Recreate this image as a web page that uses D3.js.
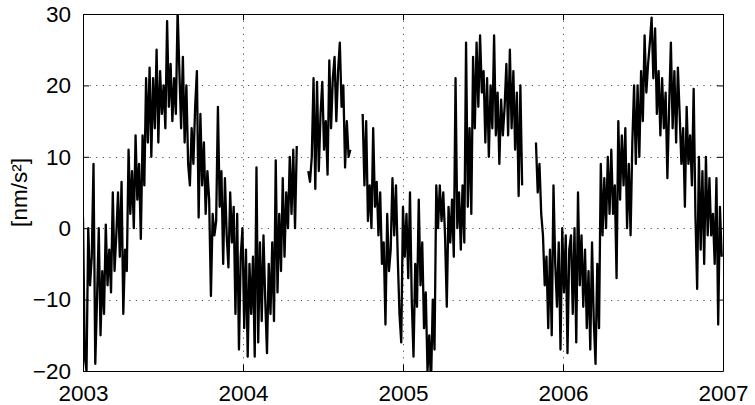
<!DOCTYPE html>
<html>
<head>
<meta charset="utf-8">
<script src="https://cdn.jsdelivr.net/npm/d3@7/dist/d3.min.js"></script>
<style>
  html, body { margin: 0; padding: 0; background: #fff; }
  svg { display: block; font-family: "Liberation Sans", Arial, Helvetica, sans-serif; }
</style>
</head>
<body>
<div id="chart"></div>
<script>
const WIDTH = 755
const HEIGHT = 405
const margin = { top: 14, right: 32, bottom: 34, left: 83 }

// sampling of the record: one value every 4 days
const stepDays = 4

// x ticks (years) and y ticks (nm/s²)
const yearTicks = [2003, 2004, 2005, 2006, 2007]
const valueTicks = [-20, -10, 0, 10, 20, 30]

// continuous stretches of the record (start in decimal years)
const seg1Start = 2003.0
const seg1 = [
  1.5, -18, -20, 0, -8, -4, 9, -19, -10, 0,
  -15, -6, -12, 0.5, -8, -3, -9, 5, -6, -1,
  5, -4, 6.5, -12, -3, -6, 11, 2, 8, 0,
  13, 4, 9, -1.5, 13, 6, 21, 12, 22.5, 10,
  21, 14, 25, 12, 22, 16, 20, 14, 29, 17,
  23, 15, 21, 16, 30.5, 22, 14, 24, 12, 20,
  9, 6, 14, 9, 17, 22, 1.5, 16, 6, 12,
  2, 8, 4, -9.5, 2, -1, 1, 17, 3, 8,
  -5, 7, -1, -5.5, 5, -2, 3, -12, 2, -17,
  -4, 0, -14, -3, -18, -5, -12, -4, -18, 8.5,
  -16, -2, -13, -1, -10, -17.5, -5, -12, -2, -13,
  9.5, -9, 2, -6, 7, -4, 5, 0, 10, 2,
  11, 0, 11.5
]

const seg2Start = 2004.408
const seg2 = [
  8, 6.5, 10, 21, 5.5, 20.5, 8, 16, 20.5, 11,
  15, 7.5, 23.5, 14, 21, 24, 15, 22, 26, 17,
  20, 8.5, 15, 10, 11
]

const seg3Start = 2004.748
const seg3 = [
  16, 6, 15, 1, 6, 0, 14, 3, 6.5, -1,
  5, -5, -2, -13.5, 2, -6, -3, 7, -1, 6,
  -4, -12, -16, 3, -4, 2, -7, 5, -10, -18,
  -5, -11, 4, -8, -2, -14, -9, -20, -15, -22,
  -10, -17, 6, 0, 6, 1, 5, -1, -11, 3,
  -2, 4, -4, 21, 0, 5, -3, 6, -2, 26,
  3, 14, 2, 24, 14, 26, 17, 27, 19, 22,
  12, 21, 10, 20, 14, 27, 13, 19, 9, 18,
  13, 17, 23, 13, 25, 14, 22, 11, 19, 4.5,
  20, 6
]

const seg4Start = 2005.831
const seg4 = [
  12, 5, 9, 2, -1, -8, -4, -14, -3, -15,
  6, -5, -11, -2, -17, 0, -9, -1, -17.5, -3,
  -1, -12, 0, -16, 5, -8, -1, -11, -3, -14,
  -6, -17, -2, -13, -19, -5, -14, 9, -1, 7,
  0, 10, 2, 11, 2, 6, -7, 15, 4, 13,
  6, 14, 0, 9, -1, 12, 20, 9, 20, 10,
  22, 15, 27, 19, 23, 26, 29.5, 21, 28, 16,
  22, 13, 21, 14, 19, 7, 17, 26, 14, 22,
  12, 22.5, 16, 9, 14, 3, 17, 9, 13, 6,
  19.5, 2, -8.5, 10, -3, 8, -5, 10, -1, 7,
  -1, 2, -5, 7, -13.5, 3, -4
]

const segments = [
  { start: seg1Start, values: seg1 },
  { start: seg2Start, values: seg2 },
  { start: seg3Start, values: seg3 },
  { start: seg4Start, values: seg4 }
].map(s => s.values.map((v, i) => ({ t: s.start + i * stepDays / 365.25, v })))

const innerW = WIDTH - margin.left - margin.right
const innerH = HEIGHT - margin.top - margin.bottom

const x = d3.scaleLinear().domain([2003, 2007]).range([0, innerW])
const y = d3.scaleLinear().domain([-20, 30]).range([innerH, 0])

const svg = d3.select("#chart")
  .append("svg")
  .attr("width", WIDTH)
  .attr("height", HEIGHT)

svg.append("defs").append("clipPath")
  .attr("id", "plot-clip")
  .append("rect")
  .attr("width", innerW)
  .attr("height", innerH)

const g = svg.append("g")
  .attr("transform", `translate(${margin.left},${margin.top})`)

// dotted grid
const gridStyle = sel => sel
  .attr("stroke", "#555")
  .attr("stroke-width", 1)
  .attr("stroke-dasharray", "1.2,5.4")

g.append("g").selectAll("line")
  .data(valueTicks.filter(d => d > -20 && d < 30))
  .join("line")
  .attr("x1", 0).attr("x2", innerW)
  .attr("y1", d => Math.round(y(d)) + 0.5).attr("y2", d => Math.round(y(d)) + 0.5)
  .call(gridStyle)

g.append("g").selectAll("line")
  .data(yearTicks.filter(d => d > 2003 && d < 2007))
  .join("line")
  .attr("y1", 0).attr("y2", innerH)
  .attr("x1", d => Math.round(x(d)) + 0.5).attr("x2", d => Math.round(x(d)) + 0.5)
  .call(gridStyle)

// data
const line = d3.line()
  .x(d => x(d.t))
  .y(d => y(d.v))

g.append("g")
  .attr("clip-path", "url(#plot-clip)")
  .selectAll("path")
  .data(segments)
  .join("path")
  .attr("d", line)
  .attr("fill", "none")
  .attr("stroke", "#000")
  .attr("stroke-width", 2.3)
  .attr("stroke-linejoin", "round")

// axes: inward ticks on all four sides (matlab box)
const TICK = 6
const axisStyle = sel => {
  sel.select(".domain").attr("stroke", "#000").attr("stroke-width", 1)
  sel.selectAll(".tick line").attr("stroke", "#000")
  sel.selectAll("text")
    .attr("fill", "#000")
    .attr("font-size", "22.5px")
}

const fmtNum = d => d < 0 ? "\u2212" + Math.abs(d) : String(d)

g.append("g")
  .attr("transform", `translate(0,${innerH})`)
  .call(d3.axisBottom(x).tickValues(yearTicks).tickFormat(d3.format("d"))
    .tickSizeInner(-TICK).tickSizeOuter(0).tickPadding(14))
  .call(axisStyle)

g.append("g")
  .call(d3.axisTop(x).tickValues(yearTicks).tickFormat("")
    .tickSizeInner(-TICK).tickSizeOuter(0))
  .call(axisStyle)

g.append("g")
  .call(d3.axisLeft(y).tickValues(valueTicks).tickFormat(fmtNum)
    .tickSizeInner(-TICK).tickSizeOuter(0).tickPadding(12))
  .call(axisStyle)

g.append("g")
  .attr("transform", `translate(${innerW},0)`)
  .call(d3.axisRight(y).tickValues(valueTicks).tickFormat("")
    .tickSizeInner(-TICK).tickSizeOuter(0))
  .call(axisStyle)

// y label
svg.append("text")
  .attr("transform", `translate(27,${margin.top + innerH / 2}) rotate(-90)`)
  .attr("text-anchor", "middle")
  .attr("font-size", "22.5px")
  .attr("fill", "#000")
  .text("[nm/s²]")
</script>
</body>
</html>
